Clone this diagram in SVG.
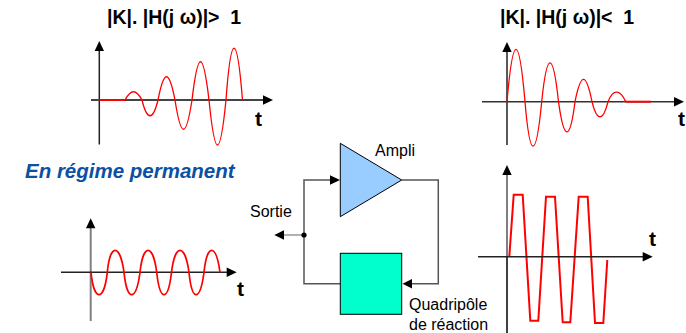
<svg xmlns="http://www.w3.org/2000/svg" width="686" height="333" viewBox="0 0 686 333">
<style>
text{font-family:"Liberation Sans",Arial,sans-serif;fill:#000;white-space:pre}
.ti{font-size:19.500px;font-weight:bold}
.t{font-size:21px;font-weight:bold}
.l{font-size:16px}
.ax{fill:none;stroke:#222;stroke-width:1.5}
.gr{fill:none;stroke:#555;stroke-width:1.5}
.wave{fill:none;stroke:#f00;stroke-width:1.3}
.wave2{fill:none;stroke:#f00;stroke-width:2}
.ah{fill:#000;stroke:none}
</style>
<rect width="686" height="333" fill="#fff"/>
<g id="chart-growing">
<path class="ax" d="M99.300 50V144.500"/>
<path class="ax" d="M91 100H265" style="stroke:#444;stroke-width:2"/>
<path class="ah" d="M99.300 41L104 51H94.600Z"/>
<path class="ah" d="M273 100L263 95.300V104.700Z"/>
<path class="wave2" d="M100 100H125"/>
<path class="wave" d="M125 100C131 89 136 89 142 100C147 121 153 121 158 100C164 69 169 69 175 100C181 139 186 139 192 100C198 49 203 49 209 100C215 160 220 160 226 100C231 31 237 31 242.500 100"/>
<text class="ti" x="107" y="24">|K|. |H(j ω)|&gt;  1</text>
<text class="t" x="255" y="126">t</text>
</g>
<g id="chart-decaying">
<path class="ax" d="M507 50V145"/>
<path class="ax" d="M482 101.700H675" style="stroke:#333"/>
<path class="ah" d="M507 42L511.700 52H502.300Z"/>
<path class="ah" d="M684 101.700L674 97V106.400Z"/>
<path class="wave2" d="M625.700 101.700H651"/>
<path class="wave" d="M507 101.700C513 32 519 32 525 101.700C530 161 536 161 541.700 101.700C547 50 553 50 558.500 101.700C564 142 570 142 575 101.700C581 72 586 72 592 101.700C597 122 603 122 608 101.700C613 89 620 89 625.700 101.700"/>
<text class="ti" x="500" y="24">|K|. |H(j ω)|&lt;  1</text>
<text class="t" x="678" y="126">t</text>
</g>
<g id="chart-saturated">
<path class="gr" d="M507 174V257"/>
<path class="ax" d="M507 257V333" style="stroke:#000"/>
<path class="ah" d="M507 165L511.700 175H502.300Z"/>
<path class="wave2" d="M509.300 256.700L513.700 194.700H522.700L530.300 320.700H538.300L546 196.700H555L562.700 322.300H570.300L578.700 196.700H587.700L595 323H603.300L607.300 260"/>
<path class="ax" d="M478 256.700H644"/>
<path class="ah" d="M652.700 256.700L642.700 252V261.400Z"/>
<text class="t" x="649" y="246">t</text>
</g>
<g id="chart-steady">
<path class="gr" d="M90.700 227V321" style="stroke:#808080;stroke-width:2"/>
<path class="ah" d="M90.700 218.300L95.400 228.300H86Z"/>
<path class="ax" d="M61 272.300H228"/>
<path class="ah" d="M236.700 272.300L226.700 267.600V277Z"/>
<path class="wave2" style="stroke-width:1.700" d="M91 272.300C94 302 104 302 107.300 272.300C110 243 120 243 124 272.300C127 302 136 302 140 272.300C143 243 153 243 156.700 272.300C160 302 168 302 171.500 272.300C175 243 185 243 189 272.300C192 302 200 302 204 272.300C207 243 216 243 220 272.300"/>
<text class="t" x="237" y="296">t</text>
</g>
<g id="caption">
<text x="25" y="178" style="font-size:20.500px;font-weight:bold;font-style:italic;fill:#0b50a4">En régime permanent</text>
</g>
<g id="connectors">
<path class="gr" d="M401.700 180H438.300V283.700H410"/>
<path class="ah" d="M402.500 283.700L412 279V288.400Z"/>
<path class="gr" d="M340.300 283.700H304V180H331"/>
<path class="ah" d="M340 180L330 175.300V184.700Z"/>
<path d="M304 235H283" fill="none" stroke="#999" stroke-width="1.5"/>
<path class="ah" d="M274.300 235L284 230.300V239.700Z"/>
<circle cx="304" cy="235" r="2.600" fill="#000"/>
</g>
<g id="ampli">
<path d="M340.300 143.300V216.700L401.700 180Z" fill="#99ccff" stroke="#000" stroke-width="1"/>
<text class="l" x="375" y="156">Ampli</text>
</g>
<g id="quadripole">
<rect x="340.300" y="253.300" width="61.400" height="61" fill="#00ffcc" stroke="#000" stroke-width="1"/>
<text class="l" x="409" y="310">Quadripôle</text>
<text class="l" x="409" y="330">de réaction</text>
</g>
<g id="sortie">
<text class="l" x="250" y="217">Sortie</text>
</g>
</svg>
